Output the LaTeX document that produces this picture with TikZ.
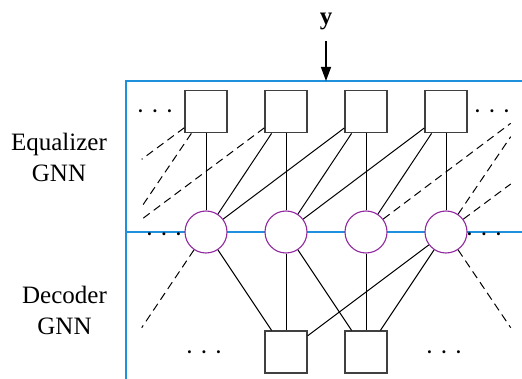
\documentclass[tikz,border=0pt]{standalone}
\usepackage{fontspec}
\setmainfont{Liberation Serif}
\usetikzlibrary{positioning,arrows.meta}
\definecolor{gnnblue}{RGB}{30,144,220}
\definecolor{varpurple}{RGB}{145,40,160}
\begin{document}
\begin{tikzpicture}
 [x=1pt,y=1pt,
  factor node/.style={node distance=80pt, rectangle, minimum size=42pt, inner sep=0pt, draw=black!75, line width=1.3pt, fill=white},
  var node/.style={node distance=80pt, circle, minimum size=42pt, inner sep=0pt, draw=varpurple, line width=1.1pt, fill=white},
  dots node/.style={font=\fontsize{25}{31}\selectfont, inner sep=0pt, yshift=-2.5pt},
  label node/.style={align=center, font=\fontsize{25}{31}\selectfont},
  frame/.style={draw=gnnblue, line width=1.5pt},
  link/.style={line width=1pt},
  open link/.style={line width=1pt, dash pattern=on 8pt off 5pt}]

\useasboundingbox (0,0) rectangle (522,-379);

% blue frame of the two GNNs
\draw[frame] (126,-379) -- (126,-81) -- (522,-81);
\draw[frame] (126,-232) -- (522,-232);

% factor, variable and check nodes
\node[factor node] (f1) at (206,-111.7) {};
\node[factor node] (f2) [right of=f1] {};
\node[factor node] (f3) [right of=f2] {};
\node[factor node] (f4) [right of=f3] {};

\node[var node] (v1) [node distance=120.3pt, below of=f1] {};
\node[var node] (v2) [right of=v1] {};
\node[var node] (v3) [right of=v2] {};
\node[var node] (v4) [right of=v3] {};

\node[factor node] (c1) [node distance=120pt, below of=v2] {};
\node[factor node] (c2) [right of=c1] {};

% dots
\node[dots node] (fd1) [node distance=51pt, left of=f1] {· · ·};
\node[dots node] (fd2) [node distance=46pt, right of=f4] {· · ·};
\node[dots node, yshift=-3pt] (vd1) [node distance=42pt, left of=v1] {· · ·};
\node[dots node, yshift=-3pt] (vd2) [node distance=38pt, right of=v4] {· · ·};
\node[dots node, yshift=-0.7pt] (cd1) [node distance=82pt, left of=c1] {· · ·};
\node[dots node, yshift=-0.7pt] (cd2) [node distance=78pt, right of=c2] {· · ·};

% open ends of the dashed edges
\coordinate (ol1) at (141.7,-159.3);
\coordinate (ol2) at (141.7,-206.7);
\coordinate (ol3) at (141.7,-219.3);
\coordinate (or1) at (510.7,-123.3);
\coordinate (or2) at (510.7,-136.7);
\coordinate (or3) at (510.7,-184);
\coordinate (bl) at (141.7,-327.7);
\coordinate (br) at (510.7,-327.7);

\path
  (f1) edge [link] (v1)
  (f2) edge [link] (v1)
  (f2) edge [link] (v2)
  (f3) edge [link] (v1)
  (f3) edge [link] (v2)
  (f3) edge [link] (v3)
  (f4) edge [link] (v2)
  (f4) edge [link] (v3)
  (f4) edge [link] (v4)

  (v1) edge [link] (c1)
  (v2) edge [link] (c1)
  (v2) edge [link] (c2)
  (v3) edge [link] (c2)
  (v4) edge [link] (c1)
  (v4) edge [link] (c2)

  (f1) edge [open link] (ol1)
  (f1) edge [open link] (ol2)
  (f2) edge [open link] (ol3)
  (v3) edge [open link] (or1)
  (v4) edge [open link] (or2)
  (v4) edge [open link] (or3)
  (v1) edge [open link] (bl)
  (v4) edge [open link] (br);

% labels
\node[label node] (eq) at (59,-157) {Equalizer\\GNN};
\node[label node] (dec) at (64.5,-310) {Decoder\\GNN};

% received signal
\node[inner xsep=0pt, inner ysep=11pt, anchor=base, font=\fontsize{25}{31}\selectfont] (y) at (326,-24.5) {\textbf{y}};
\coordinate (yin) at (326,-81);
\draw[-{Triangle[length=14pt,width=10pt]}, line width=1.4pt] (y) -- (yin);

\end{tikzpicture}
\end{document}
